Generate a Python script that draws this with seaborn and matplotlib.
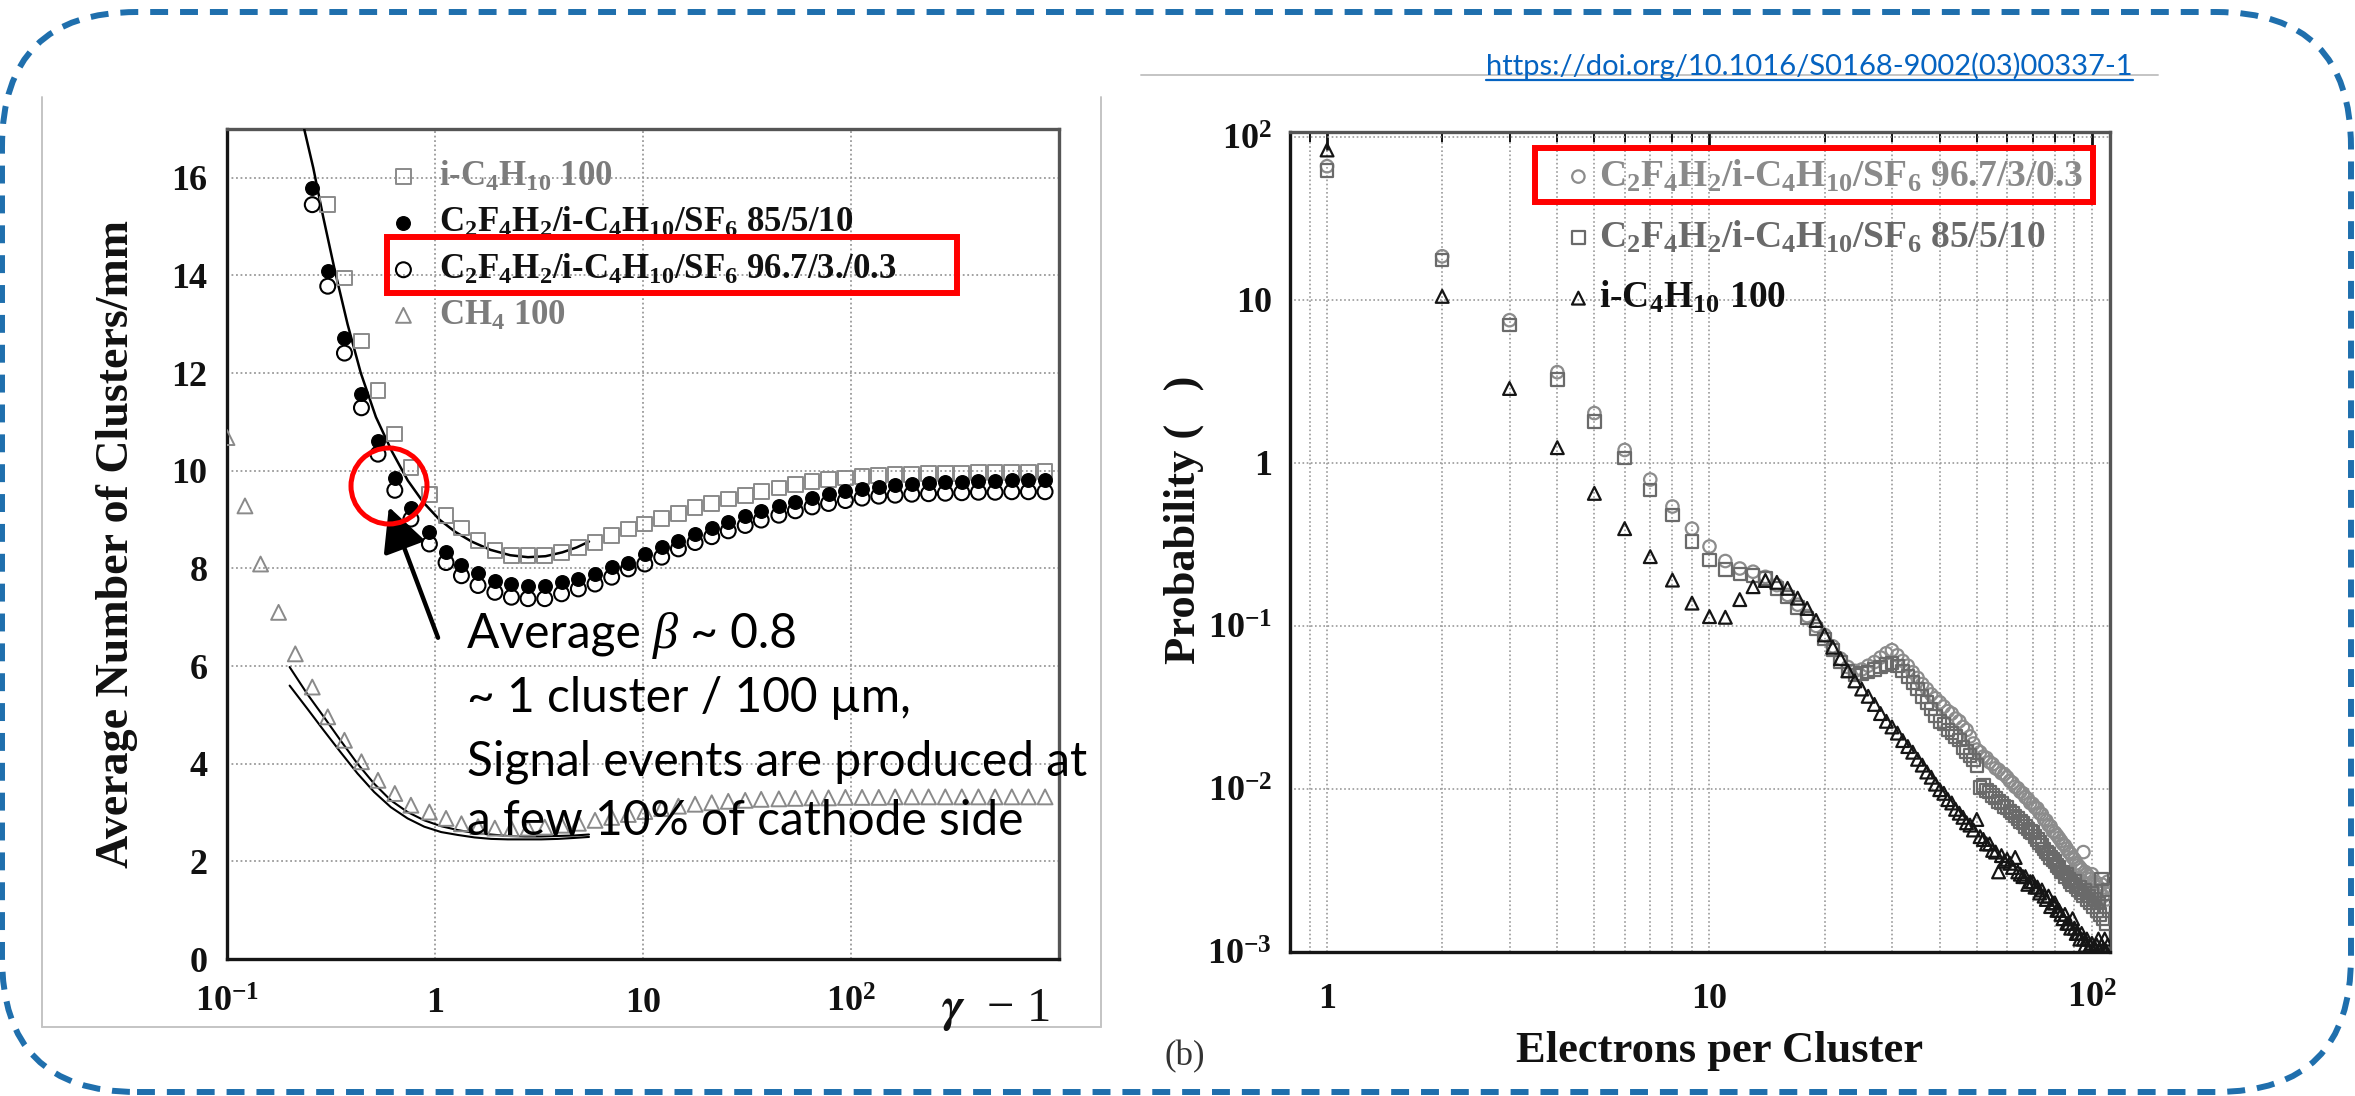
import numpy as np
import pandas as pd
import matplotlib
matplotlib.use("Agg")
import matplotlib.pyplot as plt
import seaborn as sns
from matplotlib.patches import FancyBboxPatch, Rectangle, Ellipse
from matplotlib.lines import Line2D
from matplotlib.transforms import IdentityTransform
from matplotlib.ticker import (FixedLocator, FixedFormatter, NullFormatter,
                               LogLocator, MultipleLocator)

# ---------------- data : left panel (clusters / mm vs gamma-1) ----------------
gamma_grid = [0.257, 0.305, 0.367, 0.443, 0.532, 0.641, 0.766, 0.94, 1.13, 1.34,
              1.61, 1.94, 2.33, 2.8, 3.37, 4.06, 4.89, 5.88, 7.07, 8.5,
              10.2, 12.3, 14.8, 17.8, 21.4, 25.7, 31, 37, 45, 54,
              65, 78, 94, 113, 136, 163, 196, 236, 284, 341,
              410, 493, 593, 713, 857]
mix85_y = [15.79, 14.09, 12.71, 11.58, 10.6, 9.86, 9.24, 8.74, 8.33, 8.06,
           7.9, 7.75, 7.68, 7.65, 7.65, 7.72, 7.78, 7.89, 8.02, 8.12,
           8.3, 8.43, 8.57, 8.7, 8.83, 8.95, 9.07, 9.18, 9.28, 9.37,
           9.45, 9.52, 9.58, 9.63, 9.67, 9.7, 9.73, 9.75, 9.77, 9.78,
           9.79, 9.8, 9.81, 9.81, 9.82]
mix967_y = [15.45, 13.78, 12.41, 11.29, 10.34, 9.6, 9.01, 8.5, 8.12, 7.85,
            7.65, 7.51, 7.41, 7.38, 7.38, 7.48, 7.58, 7.68, 7.82, 7.99,
            8.09, 8.23, 8.4, 8.53, 8.65, 8.77, 8.88, 8.99, 9.09, 9.18,
            9.26, 9.33, 9.39, 9.44, 9.48, 9.5, 9.52, 9.53, 9.54, 9.55,
            9.56, 9.56, 9.57, 9.57, 9.57]
ibut_x = gamma_grid[1:]
ibut_y = [15.45, 13.95, 12.66, 11.64, 10.75, 10.07, 9.52, 9.08, 8.83, 8.57,
          8.36, 8.26, 8.26, 8.26, 8.33, 8.43, 8.53, 8.67, 8.81, 8.91,
          9.02, 9.12, 9.25, 9.33, 9.42, 9.5, 9.58, 9.65, 9.72, 9.78,
          9.82, 9.85, 9.88, 9.9, 9.92, 9.93, 9.94, 9.95, 9.95, 9.96,
          9.96, 9.97, 9.97, 9.98]
ch4_x = [0.1, 0.122, 0.145, 0.177, 0.213] + gamma_grid
ch4_y = [10.68, 9.28, 8.09, 7.1, 6.25,
         5.57, 4.96, 4.48, 4.04, 3.66, 3.39, 3.15, 3.01, 2.88, 2.77,
         2.71, 2.68, 2.67, 2.68, 2.7, 2.74, 2.78, 2.84, 2.9, 2.96,
         3.02, 3.08, 3.13, 3.17, 3.2, 3.23, 3.25, 3.27, 3.28, 3.29,
         3.3, 3.3, 3.31, 3.31, 3.31, 3.32, 3.32, 3.32, 3.32, 3.32,
         3.32, 3.32, 3.32, 3.32, 3.32]
# theory curves
curve_up_x = [0.235, 0.26, 0.29, 0.33, 0.38, 0.44, 0.52, 0.62, 0.74, 0.88,
              1.05, 1.25, 1.5, 1.85, 2.3, 2.8, 3.4, 4.1, 4.8, 5.5]
curve_up_y = [17.0, 16.2, 15.2, 14.1, 13.0, 12.0, 11.1, 10.4, 9.8, 9.35,
              9.0, 8.75, 8.55, 8.38, 8.27, 8.23, 8.25, 8.33, 8.43, 8.55]
curve_lo_x = [0.2, 0.243, 0.292, 0.351, 0.424, 0.51, 0.613, 0.738, 0.888, 1.07,
              1.29, 1.55, 1.86, 2.24, 2.7, 3.24, 3.9, 4.68, 5.5]
curve_loA_y = [5.98, 5.43, 4.96, 4.48, 4.0, 3.59, 3.25, 3.01, 2.84, 2.72,
               2.64, 2.58, 2.55, 2.52, 2.51, 2.51, 2.52, 2.53, 2.55]
curve_loB_y = [5.6, 5.13, 4.68, 4.24, 3.8, 3.42, 3.11, 2.88, 2.71, 2.6,
               2.54, 2.49, 2.46, 2.45, 2.45, 2.45, 2.46, 2.48, 2.5]

left_xticks = [0.1, 1, 10, 100, 1000]
left_xticklabels = [r"$10^{-1}$", "1", "10", r"$10^{2}$", ""]
left_legend = ["i-C$_4$H$_{10}$ 100",
               "C$_2$F$_4$H$_2$/i-C$_4$H$_{10}$/SF$_6$ 85/5/10",
               "C$_2$F$_4$H$_2$/i-C$_4$H$_{10}$/SF$_6$ 96.7/3./0.3",
               "CH$_4$ 100"]

# ---------------- data : right panel (probability vs electrons per cluster) ----------------
n_electrons = list(range(1, 111))
prob_967 = [66, 18.5, 7.5, 3.6, 2.02, 1.2, 0.79, 0.54, 0.395, 0.307,
            0.25, 0.225, 0.215, 0.2, 0.178, 0.155, 0.135, 0.115, 0.1, 0.088,
            0.075, 0.063, 0.056, 0.053, 0.054, 0.057, 0.06, 0.064, 0.068, 0.071,
            0.066, 0.061, 0.057, 0.052, 0.048, 0.044, 0.041, 0.038, 0.036, 0.034,
            0.032, 0.030, 0.029, 0.027, 0.026, 0.024, 0.023, 0.021, 0.019, 0.0174,
            0.0168, 0.0158, 0.0155, 0.0146, 0.0142, 0.0134, 0.0131, 0.0125, 0.0123, 0.0118,
            0.0112, 0.0109, 0.0103, 0.0101, 0.0096, 0.0094, 0.0089, 0.0087, 0.0082, 0.0081,
            0.0077, 0.0076, 0.0071, 0.0070, 0.0065, 0.0064, 0.0060, 0.0059, 0.0055, 0.0054,
            0.0052, 0.0050, 0.0048, 0.0046, 0.0045, 0.0043, 0.0041, 0.0040, 0.0038, 0.0037,
            0.0035, 0.0034, 0.0033, 0.0032, 0.0041, 0.0031, 0.0030, 0.0029, 0.0028, 0.0030,
            0.0026, 0.0027, 0.0024, 0.0025, 0.0023, 0.0026, 0.0022, 0.0024, 0.0021, 0.0027]
prob_85 = [62, 17.5, 7.0, 3.25, 1.79, 1.07, 0.68, 0.478, 0.33, 0.254,
           0.222, 0.208, 0.204, 0.195, 0.17, 0.15, 0.13, 0.112, 0.096, 0.083,
           0.071, 0.060, 0.053, 0.050, 0.051, 0.052, 0.054, 0.056, 0.058, 0.059,
           0.057, 0.053, 0.049, 0.045, 0.041, 0.037, 0.034, 0.031, 0.028, 0.026,
           0.025, 0.023, 0.022, 0.021, 0.020, 0.018, 0.017, 0.016, 0.015, 0.0139,
           0.0102, 0.0105, 0.0098, 0.0096, 0.0091, 0.0088, 0.0084, 0.0082, 0.0078, 0.0077,
           0.0073, 0.0071, 0.0068, 0.0066, 0.0063, 0.0062, 0.0059, 0.0057, 0.0055, 0.0054,
           0.0051, 0.0049, 0.0047, 0.0045, 0.0043, 0.0041, 0.0040, 0.0038, 0.0037, 0.0036,
           0.0034, 0.0033, 0.0031, 0.0031, 0.0029, 0.0030, 0.0028, 0.0027, 0.0026, 0.0027,
           0.0025, 0.0024, 0.0025, 0.0023, 0.0022, 0.0024, 0.0021, 0.0022, 0.0020, 0.0023,
           0.0019, 0.0021, 0.0018, 0.0020, 0.0017, 0.0028, 0.0016, 0.0019, 0.0015, 0.0024]
prob_ibut = [83, 10.5, 2.86, 1.24, 0.65, 0.395, 0.266, 0.191, 0.138, 0.114,
             0.113, 0.145, 0.174, 0.19, 0.185, 0.17, 0.148, 0.128, 0.108, 0.088,
             0.074, 0.063, 0.053, 0.046, 0.041, 0.037, 0.033, 0.029, 0.026, 0.024,
             0.022, 0.0198, 0.0182, 0.0168, 0.0152, 0.0140, 0.0127, 0.0118, 0.0107, 0.0099,
             0.0094, 0.0086, 0.0082, 0.0075, 0.0071, 0.0067, 0.0062, 0.0060, 0.0056, 0.0065,
             0.0051, 0.0049, 0.0046, 0.0046, 0.0042, 0.0041, 0.0031, 0.0039, 0.0036, 0.0037,
             0.0035, 0.0033, 0.0038, 0.0031, 0.0030, 0.0029, 0.0029, 0.0026, 0.0027, 0.0027,
             0.0025, 0.0025, 0.0023, 0.0024, 0.0022, 0.0021, 0.0022, 0.0019, 0.0020, 0.0020,
             0.0018, 0.0018, 0.0017, 0.0016, 0.0017, 0.0015, 0.0015, 0.0014, 0.0016, 0.0014,
             0.0013, 0.0013, 0.0012, 0.0013, 0.0012, 0.0011, 0.0012, 0.00105, 0.0011, 0.00113,
             0.0010, 0.00105, 0.0011, 0.0012, 0.00102, 0.0011, 0.00104, 0.0012, 0.00101, 0.0011]
right_xticks = [1, 10, 100]
right_xticklabels = ["1", "10", r"$10^{2}$"]
right_yticks = [1e-3, 1e-2, 1e-1, 1, 10, 100]
right_yticklabels = [r"$10^{-3}$", r"$10^{-2}$", r"$10^{-1}$", "1", "10", r"$10^{2}$"]
right_legend = ["C$_2$F$_4$H$_2$/i-C$_4$H$_{10}$/SF$_6$ 96.7/3/0.3",
                "C$_2$F$_4$H$_2$/i-C$_4$H$_{10}$/SF$_6$ 85/5/10",
                "i-C$_4$H$_{10}$ 100"]

annotation_lines = [("Average ", "β", " ~ 0.8"),
                    ("~ 1 cluster / 100 µm,", "", ""),
                    ("Signal events are produced at", "", ""),
                    ("a few 10% of cathode side", "", "")]
doi_text = "https://doi.org/10.1016/S0168-9002(03)00337-1"

# ---------------- style ----------------
sns.set_theme(style="white")
plt.rcParams.update({
    "font.family": ["Liberation Serif", "DejaVu Serif"],
    "font.weight": "bold",
    "mathtext.fontset": "stix",
    "mathtext.default": "regular",
    "axes.linewidth": 2.2,
    "lines.scale_dashes": True,
})

W, H = 2355, 1096
def fx(px): return px / W
def fy(py): return 1 - py / H

fig = plt.figure(figsize=(W / 100, H / 100), dpi=100)
fig.patch.set_facecolor("white")
axL = fig.add_axes([fx(227), fy(959), (1059 - 227) / W, (959 - 129) / H])
axR = fig.add_axes([fx(1290), fy(952), (2110 - 1290) / W, (952 - 132) / H])
for ax in (axL, axR):
    ax.set_facecolor("white")
    ax.set_xscale("log")
axR.set_yscale("log")

def scat(ax, x, y, marker, s, ec, fc, lw):
    sns.scatterplot(x=x, y=y, ax=ax, marker=marker, s=s, linewidth=lw,
                    legend=False, zorder=4)
    coll = ax.collections[-1]
    coll.set_facecolor(fc)
    coll.set_edgecolor(ec)
    coll.set_linewidth(lw)
    coll.set_zorder(4)
    return coll

GRAY = "#8a8a8a"
# ---- left panel ----
h_sq = scat(axL, ibut_x, ibut_y, "s", 112, GRAY, "none", 1.4)
h_dot = scat(axL, gamma_grid, mix85_y, "o", 95, "black", "black", 1.0)
h_cir = scat(axL, gamma_grid, mix967_y, "o", 115, "black", "none", 1.5)
h_tri = scat(axL, ch4_x, ch4_y, "^", 115, GRAY, "none", 1.4)
sns.lineplot(x=curve_up_x, y=curve_up_y, ax=axL, sort=False, estimator=None,
             color="black", lw=1.8, zorder=3)
sns.lineplot(x=curve_lo_x, y=curve_loA_y, ax=axL, sort=False, estimator=None,
             color="black", lw=1.5, zorder=3)
sns.lineplot(x=curve_lo_x, y=curve_loB_y, ax=axL, sort=False, estimator=None,
             color="black", lw=1.5, zorder=3)

axL.set_xlim(0.1, 1000)
axL.set_ylim(0, 17)
axL.xaxis.set_major_locator(FixedLocator(left_xticks))
axL.xaxis.set_major_formatter(FixedFormatter(left_xticklabels))
axL.xaxis.set_minor_locator(LogLocator(base=10, subs=np.arange(2, 10) * 1.0, numticks=60))
axL.xaxis.set_minor_formatter(NullFormatter())
axL.yaxis.set_major_locator(MultipleLocator(2))
axL.yaxis.set_minor_locator(MultipleLocator(0.5))
axL.set_axisbelow(True)
axL.grid(True, which="major", color="#9a9a9a", linestyle=(0, (1, 1.5)), linewidth=1.3)

# ---- right panel ----
r_cir = scat(axR, n_electrons, prob_967, "o", 80, "#8c8c8c", "none", 1.6)
r_sq = scat(axR, n_electrons, prob_85, "s", 80, "#6a6a6a", "none", 1.6)
r_tri = scat(axR, n_electrons, prob_ibut, "^", 85, "#151515", "none", 1.6)
axR.set_xlim(0.8, 111.5)
axR.set_ylim(1e-3, 107)
axR.xaxis.set_major_locator(FixedLocator(right_xticks))
axR.xaxis.set_major_formatter(FixedFormatter(right_xticklabels))
axR.xaxis.set_minor_locator(LogLocator(base=10, subs=np.arange(2, 10) * 1.0, numticks=60))
axR.xaxis.set_minor_formatter(NullFormatter())
axR.yaxis.set_major_locator(FixedLocator(right_yticks))
axR.yaxis.set_major_formatter(FixedFormatter(right_yticklabels))
axR.yaxis.set_minor_locator(LogLocator(base=10, subs=np.arange(2, 10) * 1.0, numticks=60))
axR.yaxis.set_minor_formatter(NullFormatter())
axR.set_axisbelow(True)
axR.grid(True, which="both", axis="x", color="#9a9a9a", linestyle=(0, (1, 1.5)), linewidth=1.2)
axR.grid(True, which="major", axis="y", color="#9a9a9a", linestyle=(0, (1, 1.5)), linewidth=1.2)

for ax in (axL, axR):
    for side in ("left", "bottom"):
        ax.spines[side].set_color("#151515")
        ax.spines[side].set_linewidth(2.4)
    for side in ("top", "right"):
        ax.spines[side].set_color("#555555")
        ax.spines[side].set_linewidth(2.4)
    ax.tick_params(which="major", direction="in", length=13, width=2.0,
                   labelsize=26, colors="#111111")
    ax.tick_params(which="minor", direction="in", length=7, width=1.4, colors="#111111")
axL.tick_params(axis="x", which="major", pad=38)
axL.tick_params(axis="y", which="major", pad=14)
axR.tick_params(axis="x", which="major", pad=40)
axR.tick_params(axis="y", which="major", pad=13)
axR.tick_params(axis="x", which="both", top=True)

# ---- legends ----
legL = axL.legend(handles=[h_sq, h_dot, h_cir, h_tri], labels=left_legend,
                  loc="center left", bbox_to_anchor=(fx(393), fy(246)),
                  bbox_transform=fig.transFigure, frameon=False,
                  prop={"family": "Liberation Serif", "weight": "bold", "size": 25},
                  handlelength=0.6, handletextpad=0.72, labelspacing=0.36,
                  borderpad=0, borderaxespad=0, markerscale=1.0)
for t, c in zip(legL.get_texts(), ["#7c7c7c", "#111111", "#111111", "#7c7c7c"]):
    t.set_color(c)
legR = axR.legend(handles=[r_cir, r_sq, r_tri], labels=right_legend,
                  loc="center left", bbox_to_anchor=(fx(1569), fy(237)),
                  bbox_transform=fig.transFigure, frameon=False,
                  prop={"family": "Liberation Serif", "weight": "bold", "size": 27},
                  handlelength=0.5, handletextpad=0.3, labelspacing=0.65,
                  borderpad=0, borderaxespad=0)
for t, c in zip(legR.get_texts(), ["#8a8a8a", "#6a6a6a", "#111111"]):
    t.set_color(c)

# ---- axis labels and texts ----
fig.text(fx(117), fy(544), "Average Number of Clusters/mm", rotation=90,
         ha="center", va="center", fontsize=33, fontweight="bold", color="#111111")
fig.text(fx(995), fy(1010), r"$\mathit{\gamma}$  − 1",
         ha="center", va="center", fontsize=35, fontweight="normal", color="#111111")
fig.text(fx(1184), fy(520), "Probability (   )", rotation=90,
         ha="center", va="center", fontsize=32, fontweight="bold", color="#111111")
fig.text(fx(1720), fy(1062), "Electrons per Cluster", ha="center", va="baseline",
         fontsize=32, fontweight="bold", color="#111111")
fig.text(fx(1185), fy(1057), "(b)", ha="center", va="center", fontsize=25,
         fontweight="normal", color="#333333")

# red highlight marks
fig.add_artist(Rectangle((fx(387), fy(293)), (957 - 387) / W, (293 - 237) / H,
                         transform=fig.transFigure, fill=False, ec="#ff0000", lw=4.3, zorder=20))
fig.add_artist(Rectangle((fx(1535), fy(202)), (2093 - 1535) / W, (202 - 148) / H,
                         transform=fig.transFigure, fill=False, ec="#ff0000", lw=4.3, zorder=20))
fig.add_artist(Ellipse((fx(389), fy(486)), 76 / W, 76 / H, transform=fig.transFigure,
                       fill=False, ec="#ff0000", lw=3.6, zorder=20))
axL.annotate("", xy=(0.60, 9.26), xytext=(1.034, 6.58), xycoords="data",
             arrowprops=dict(arrowstyle="-|>,head_length=0.9,head_width=0.45",
                             mutation_scale=30, lw=3.2, color="black",
                             shrinkA=0, shrinkB=0),
             annotation_clip=False, zorder=20)

# annotation text block (sans text with an italic serif beta)
SANS = ["Lato", "DejaVu Sans"]
fig.canvas.draw()
rend = fig.canvas.get_renderer()
probe = fig.text(0, 0, annotation_lines[2][0], fontsize=34, family=SANS, fontweight="normal")
fs = 34 * 622 / probe.get_window_extent(renderer=rend).width
probe.remove()
for yy, (a, b, c) in zip([630, 694, 757, 817], annotation_lines):
    t1 = fig.text(fx(467), fy(yy), a, ha="left", va="center_baseline", fontsize=fs,
                  family=SANS, fontweight="normal", color="black", zorder=30)
    if b:
        x1 = t1.get_window_extent(renderer=rend).x1
        t2 = fig.text(x1 / W, fy(yy), b, ha="left", va="center_baseline", fontsize=fs * 1.05,
                      family=["Liberation Serif", "DejaVu Serif"], style="italic",
                      fontweight="normal", color="black", zorder=30)
        x2 = t2.get_window_extent(renderer=rend).x1
        fig.text(x2 / W, fy(yy), c, ha="left", va="center_baseline", fontsize=fs,
                 family=SANS, fontweight="normal", color="black", zorder=30)

# doi link
doi = fig.text(fx(2133), fy(75), doi_text, ha="right", va="baseline", fontsize=20,
               family=SANS, fontweight="normal", color="#0563c1")
wd = doi.get_window_extent(renderer=rend).width
doi.set_fontsize(20 * 646 / wd)
fig.canvas.draw()
bb = doi.get_window_extent(renderer=fig.canvas.get_renderer())
fig.add_artist(Line2D([bb.x0 / W, bb.x1 / W], [fy(80), fy(80)], transform=fig.transFigure,
                      color="#0563c1", lw=1.6))

# panel border lines
gl = dict(color="#c4c4c4", lw=1.4, transform=fig.transFigure)
fig.add_artist(Line2D([fx(42), fx(42)], [fy(97), fy(1027)], **gl))
fig.add_artist(Line2D([fx(42), fx(1101)], [fy(1027), fy(1027)], **gl))
fig.add_artist(Line2D([fx(1101), fx(1101)], [fy(97), fy(1027)], **gl))
fig.add_artist(Line2D([fx(1141), fx(2158)], [fy(75), fy(75)], **gl))

# dashed rounded outer frame
frame = FancyBboxPatch((2, 4), 2349, 1080, boxstyle="round,pad=0,rounding_size=135",
                       transform=IdentityTransform(), fill=False, ec="#1f6fad",
                       lw=4.3, linestyle=(0, (3, 2)), zorder=50)
fig.add_artist(frame)

# tick label baselines
fig.canvas.draw()
for ax in (axL, axR):
    for lab in ax.get_xticklabels():
        lab.set_va("baseline")

fig.savefig("out.png", dpi=100, facecolor="white")
